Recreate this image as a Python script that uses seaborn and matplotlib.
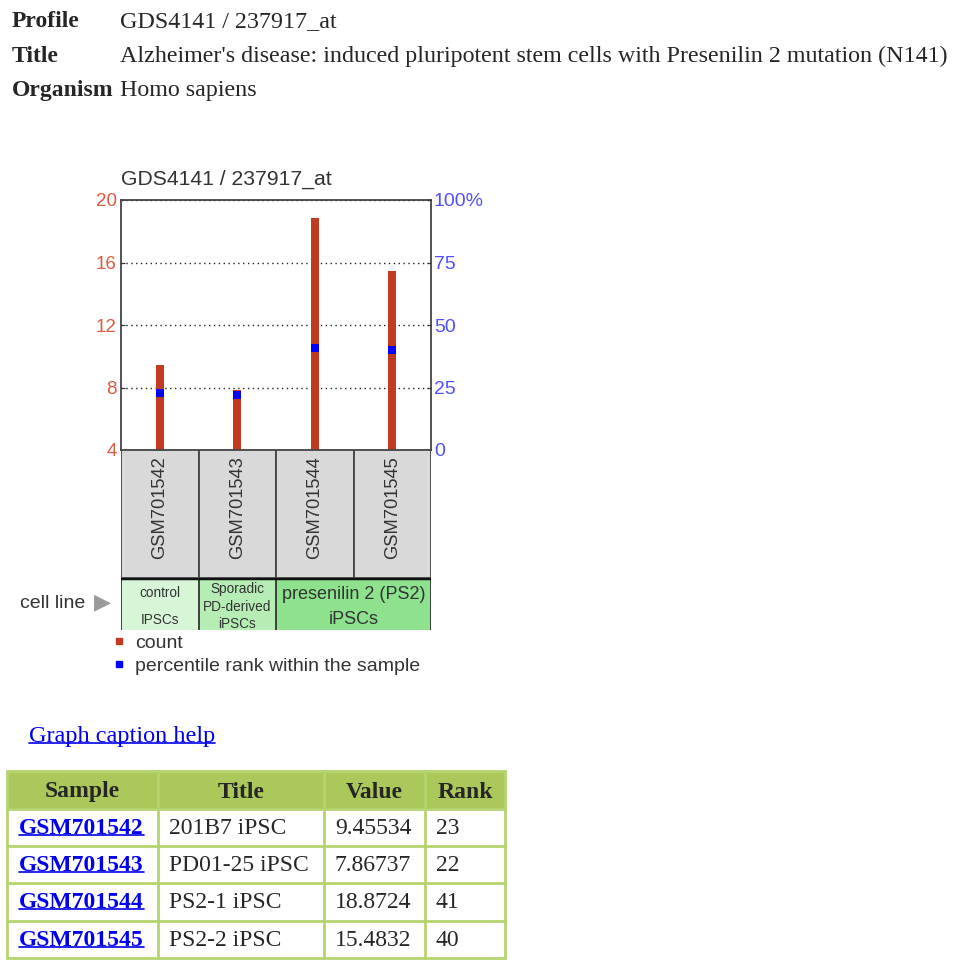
import numpy as np
import matplotlib
matplotlib.use("Agg")
import matplotlib.pyplot as plt
import seaborn as sns
from matplotlib.patches import Rectangle
from matplotlib.lines import Line2D

# data
samples = ['GSM701542', 'GSM701543', 'GSM701544', 'GSM701545']
titles = ['201B7 iPSC', 'PD01-25 iPSC', 'PS2-1 iPSC', 'PS2-2 iPSC']
counts = [9.45534, 7.86737, 18.8724, 15.4832]
ranks = [23, 22, 41, 40]
value_labels = ['9.45534', '7.86737', '18.8724', '15.4832']

groups = ['control\nIPSCs', 'Sporadic\nPD-derived\niPSCs', 'presenilin 2 (PS2)\niPSCs']
group_sizes = [1, 1, 2]
group_colors = ['#d7f6d7', '#b5edb5', '#8ee28e']

left_ticks = [4, 8, 12, 16, 20]
right_ticks = [0, 25, 50, 75, 100]
right_labels = ['0', '25', '50', '75', '100%']

header_keys = ['Profile', 'Title', 'Organism']
header_vals = ['GDS4141 / 237917_at',
               "Alzheimer's disease: induced pluripotent stem cells with Presenilin 2 mutation (N141)",
               'Homo sapiens']
table_cols = ['Sample', 'Title', 'Value', 'Rank']

RED = '#c13a21'
BLUE = '#0000ff'
W, H = 960, 968

sns.set_style("white")
plt.rcParams['font.family'] = ['Liberation Sans', 'DejaVu Sans']
SERIF = ['Liberation Serif', 'DejaVu Serif']


def px_rect(x0, y0, x1, y1):
    return [x0 / W, 1 - y1 / H, (x1 - x0) / W, (y1 - y0) / H]


fig = plt.figure(figsize=(W / 100, H / 100), dpi=100)

# page header
for k, v, yb in zip(header_keys, header_vals, [27, 62, 96]):
    fig.text(12 / W, 1 - yb / H, k, family=SERIF, weight='bold', fontsize=17, va='baseline')
    fig.text(120 / W, 1 - yb / H, v, family=SERIF, fontsize=17.3, va='baseline')

# main chart
ax = fig.add_axes(px_rect(121, 200, 431, 450))
sns.barplot(x=samples, y=counts, ax=ax, color=RED, width=0.1, saturation=1, linewidth=0)
ax.set_ylim(4, 20)
ax.set_yticks(left_ticks)
ax.tick_params(axis='y', colors='#333333', labelcolor='#de5a42', labelsize=13.5,
               direction='in', length=3, pad=3)
ax.set_xticks([])
ax.set_xlabel('')
ax.set_ylabel('')
ax.yaxis.grid(True, linestyle=(0, (1, 2.5)), color='#222222', lw=1)
for s in ax.spines.values():
    s.set_color('#444444')
    s.set_linewidth(1.3)

ax2 = ax.twinx()
sns.scatterplot(x=samples, y=ranks, ax=ax2, marker='s', s=34, color=BLUE,
                linewidth=0, legend=False, zorder=3)
ax2.set_ylim(0, 100)
ax2.set_yticks(right_ticks)
ax2.set_yticklabels(right_labels)
ax2.tick_params(axis='y', colors='#333333', labelcolor='#5050ff', labelsize=14,
                direction='in', length=3, pad=2)
ax2.set_xlabel('')
ax2.set_ylabel('')
ax2.grid(False)
for s in ax2.spines.values():
    s.set_visible(False)
ax.set_xlim(-0.5, len(samples) - 0.5)
ax2.set_xlim(-0.5, len(samples) - 0.5)

fig.text(121 / W, 1 - 185 / H, 'GDS4141 / 237917_at', fontsize=15.2, color='#333333', va='baseline')

# sample name boxes
ax_s = fig.add_axes(px_rect(121, 450, 431, 578))
ax_s.set_xlim(-0.5, len(samples) - 0.5)
ax_s.set_ylim(0, 1)
ax_s.axis('off')
for i, s in enumerate(samples):
    ax_s.add_patch(Rectangle((i - 0.5, 0), 1, 1, facecolor='#d9d9d9', edgecolor='#444444', lw=1.3))
    ax_s.text(i, 0.55, s, rotation=90, ha='center', va='center', fontsize=13.2, color='#333333')

# cell line row
ax_c = fig.add_axes(px_rect(121, 578, 431, 630))
ax_c.set_xlim(-0.5, len(samples) - 0.5)
ax_c.set_ylim(0, 1)
ax_c.axis('off')
starts = np.cumsum([0] + group_sizes[:-1])
for g, st, sz, c, fs, lsp, yc in zip(groups, starts, group_sizes, group_colors,
                                     [9.8, 9.8, 13], [2.2, 1.3, 1.6], [0.45, 0.45, 0.44]):
    ax_c.add_patch(Rectangle((st - 0.5, 0), sz, 1, facecolor=c, edgecolor='none'))
    ax_c.axvline(st - 0.5, color='#333333', lw=1.3)
    ax_c.text(st - 0.5 + sz / 2, yc, g, ha='center', va='center', fontsize=fs,
              color='#333333', linespacing=lsp)
ax_c.axvline(len(samples) - 0.5, color='#333333', lw=1.3)
ax_c.axhline(1, color='#111111', lw=2.5)

fig.text(85 / W, 1 - 603 / H, 'cell line', ha='right', va='center', fontsize=14, color='#333333')
fig.text(94 / W, 1 - 602 / H, '\u25B6', ha='left', va='center', fontsize=16, color='#9a9a9a',
         family=['DejaVu Sans'])

# legend
handles = [Line2D([], [], marker='s', ls='', color=RED, ms=5, label='count'),
           Line2D([], [], marker='s', ls='', color=BLUE, ms=5, label='percentile rank within the sample')]
fig.legend(handles=handles, loc='upper left', bbox_to_anchor=(112 / W, 1 - 634 / H),
           frameon=False, fontsize=14, handlelength=0.7, handletextpad=0.5,
           labelspacing=0.3, borderpad=0, borderaxespad=0, labelcolor='#333333')

# caption help link
cap = fig.text(29 / W, 1 - 742 / H, 'Graph caption help', family=SERIF, fontsize=17.5,
               color='#0000ee', va='baseline')

# table
col_w = [151, 166, 101, 80]
row_h = [38, 37, 37, 38, 37]
ax_t = fig.add_axes(px_rect(7, 771, 7 + sum(col_w), 771 + sum(row_h)))
ax_t.set_xlim(0, sum(col_w))
ax_t.set_ylim(sum(row_h), 0)
ax_t.axis('off')
xe = np.cumsum([0] + col_w)
ye = np.cumsum([0] + row_h)
ax_t.add_patch(Rectangle((0, 0), sum(col_w), row_h[0], facecolor='#abc95b', edgecolor='none'))
for x in xe:
    ax_t.plot([x, x], [0, ye[-1]], color='#b5d46f', lw=2, clip_on=False)
for y in ye:
    ax_t.plot([0, xe[-1]], [y, y], color='#b5d46f', lw=2, clip_on=False)
for j, c in enumerate(table_cols):
    ax_t.text((xe[j] + xe[j + 1]) / 2, (ye[0] + ye[1]) / 2 + 2, c, ha='center', va='center',
              family=SERIF, weight='bold', fontsize=17)
links = []
for i in range(len(samples)):
    yc = (ye[i + 1] + ye[i + 2]) / 2 + 1
    row = [samples[i], titles[i], value_labels[i], str(ranks[i])]
    for j, t in enumerate(row):
        if j == 0:
            links.append(ax_t.text(xe[j] + 12, yc, t, ha='left', va='center', family=SERIF,
                                   weight='bold', fontsize=17, color='#0000ee'))
        else:
            ax_t.text(xe[j] + 11, yc, t, ha='left', va='center', family=SERIF, fontsize=17)

# underline the links
fig.canvas.draw()
r = fig.canvas.get_renderer()
inv = fig.transFigure.inverted()
for t in links + [cap]:
    bb = t.get_window_extent(r)
    (x0, y0), (x1, y1) = inv.transform([(bb.x0, bb.y0), (bb.x1, bb.y1)])
    uy = y0 + (y1 - y0) * 0.2
    fig.add_artist(Line2D([x0, x1], [uy, uy], color='#0000ee', lw=1.2, transform=fig.transFigure))

fig.savefig('out.png', dpi=100, facecolor='white')
